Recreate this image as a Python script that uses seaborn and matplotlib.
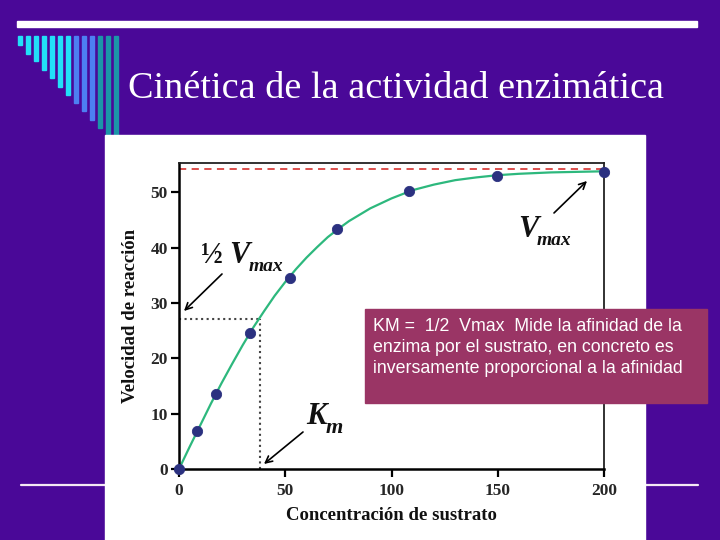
import matplotlib.pyplot as plt
import seaborn as sns
from matplotlib.patches import Rectangle
from matplotlib.lines import Line2D

# ---- data ----
sustrato = [0, 8.6, 17.4, 33.4, 52.1, 74.4, 108.2, 149.6, 200]
velocidad = [0, 6.9, 13.6, 24.6, 34.6, 43.3, 50.3, 53.0, 53.7]
curva_x = [0, 5, 10, 15, 20, 25, 30, 35, 40, 45, 50, 55, 60, 65, 70, 75, 80,
           90, 100, 110, 120, 130, 140, 150, 160, 175, 200]
curva_y = [0, 4.0, 7.9, 11.8, 15.5, 19.0, 22.4, 25.6, 28.5, 31.3, 33.8, 36.1,
           38.2, 40.1, 41.9, 43.4, 44.8, 47.1, 48.9, 50.4, 51.4, 52.2, 52.7,
           53.1, 53.35, 53.6, 53.8]
vmax = 54.2
half_vmax = 27.1
km = 38.0
x_ticks = [0, 50, 100, 150, 200]
y_ticks = [0, 10, 20, 30, 40, 50]

titulo = "Cinética de la actividad enzimática"
nota = ["KM =  1/2  Vmax  Mide la afinidad de la",
        "enzima por el sustrato, en concreto es",
        "inversamente proporcional a la afinidad"]

W, H = 720, 540
PURPLE = '#4a0898'


def fx(px):
    return px / W


def fy(py):
    return 1 - py / H


sns.set_theme(style="white")
plt.rcParams['font.family'] = ['Liberation Serif', 'DejaVu Serif']

fig = plt.figure(figsize=(7.2, 5.4), dpi=100, facecolor=PURPLE)

# ---- slide decoration ----
fig.add_artist(Rectangle((fx(17), fy(27)), fx(680), 6 / H, transform=fig.transFigure,
                         color='white', zorder=-3))
bottoms = [45, 54, 61, 70, 78, 87, 95, 103, 111, 120, 128, 140, 140]
cols = ['#22e0f8'] * 7 + ['#4d7ff2'] * 3 + ['#1b96a8'] * 3
for i, (b, c) in enumerate(zip(bottoms, cols)):
    fig.add_artist(Rectangle((fx(18 + 8 * i), fy(b)), 4 / W, (b - 36) / H,
                             transform=fig.transFigure, color=c, zorder=-3))
for x0, x1 in [(21, 105), (645, 698)]:
    fig.add_artist(Line2D([fx(x0), fx(x1)], [fy(485), fy(485)], transform=fig.transFigure,
                          color='#f4e8f4', lw=1.6, zorder=-3))
# white picture behind the chart
fig.add_artist(Rectangle((fx(105), 0), fx(540), fy(135), transform=fig.transFigure,
                         color='white', zorder=-2))

fig.text(fx(396), fy(89), titulo, color='white', fontsize=27.5, ha='center', va='center')

# ---- the chart ----
ax = fig.add_axes([fx(179), fy(469), fx(425), 306 / H])
ax.set_facecolor('white')

ax.axhline(vmax, color='#d9413f', lw=1.3, dashes=(4, 3), zorder=1)
ax.plot([0, km], [half_vmax, half_vmax], color='#444444', lw=1.5, ls=':', zorder=1)
ax.plot([km, km], [0, half_vmax], color='#444444', lw=1.5, ls=':', zorder=1)

sns.lineplot(x=curva_x, y=curva_y, ax=ax, color='#2db87d', lw=1.6, zorder=2)
sns.scatterplot(x=sustrato, y=velocidad, ax=ax, s=55, color='#2b3180',
                edgecolor='#2b3180', zorder=5, clip_on=False)

ax.set_xlim(0, 200)
ax.set_ylim(0, 55.3)
ax.set_xticks(x_ticks)
ax.set_yticks(y_ticks)
ax.tick_params(axis='both', which='major', direction='out', length=6, width=1.6,
               labelsize=12.5, color='black', bottom=True, left=True)
ax.tick_params(axis='x', pad=4)
ax.tick_params(axis='y', pad=2)
for lab in ax.get_xticklabels() + ax.get_yticklabels():
    lab.set_fontweight('bold')
for side in ['left', 'bottom']:
    ax.spines[side].set_linewidth(1.8)
    ax.spines[side].set_color('black')
for side in ['top', 'right']:
    ax.spines[side].set_linewidth(1.3)
    ax.spines[side].set_color('#222222')

ax.set_xlabel('Concentración de sustrato', fontsize=13.5, fontweight='bold', labelpad=6,
              color='#111111')
ax.set_ylabel('Velocidad de reacción', fontsize=13.5, fontweight='bold', labelpad=8,
              color='#111111')


def dx(px):
    return (px - 179) / 2.125


def dy(py):
    return (469 - py) / 5.533


arrow = dict(arrowstyle='->', color='black', lw=1.2, shrinkA=0, shrinkB=0)
ax.annotate('', xy=(dx(184), dy(311)), xytext=(dx(222), dy(274)), arrowprops=arrow,
            annotation_clip=False)
ax.annotate('', xy=(dx(264), dy(464)), xytext=(dx(303), dy(432)), arrowprops=arrow,
            annotation_clip=False)
ax.annotate('', xy=(dx(587), dy(181)), xytext=(dx(554), dy(213)), arrowprops=arrow,
            annotation_clip=False)

big = dict(fontsize=22, fontweight='bold', style='italic', va='baseline', ha='left',
           color='#111111')
small = dict(fontsize=14, fontweight='bold', style='italic', va='baseline', ha='left',
             color='#111111')
ax.text(dx(201), dy(263), '½', fontsize=21, fontweight='bold', va='baseline', ha='left',
        color='#111111')
ax.text(dx(229), dy(263), 'V', **big)
ax.text(dx(249), dy(271), 'max', **small)
ax.text(dx(306), dy(424), 'K', **big)
ax.text(dx(326), dy(433), 'm', fontsize=16, fontweight='bold', style='italic',
        va='baseline', ha='left', color='#111111')
ax.text(dx(518), dy(237), 'V', **big)
ax.text(dx(537), dy(245), 'max', **small)

# ---- note box ----
fig.add_artist(Rectangle((fx(365), fy(403)), fx(342), 94 / H, transform=fig.transFigure,
                         color='#9a3565', zorder=4))
for i, line in enumerate(nota):
    fig.text(fx(373), fy(331 + 21 * i), line, color='white', fontsize=12.8,
             family=['Liberation Sans', 'DejaVu Sans'], va='baseline', ha='left', zorder=5)

fig.savefig('out.png', dpi=100, facecolor=PURPLE)
